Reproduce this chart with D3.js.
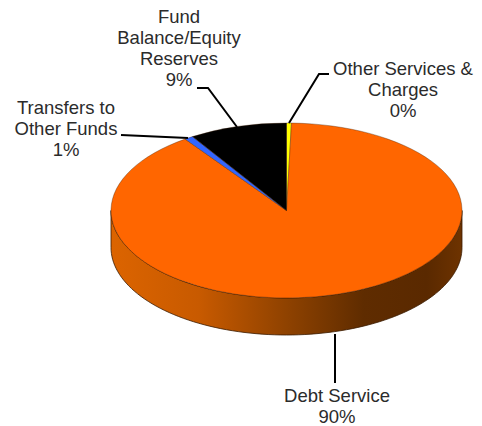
<!DOCTYPE html>
<html>
<head>
<meta charset="utf-8">
<script src="https://cdn.jsdelivr.net/npm/d3@7"></script>
<style>
html,body{margin:0;padding:0;background:#fff}
svg{display:block}
text{font-family:"Liberation Sans",Arial,sans-serif;font-size:18.5px;fill:#2b2b2b}
</style>
</head>
<body>
<svg id="chart" width="482" height="426"></svg>
<script>
// Budget shares, clockwise from twelve o'clock
const categories = ["Other Services & Charges", "Debt Service", "Transfers to Other Funds", "Fund Balance/Equity Reserves"];
const shares = [0.45, 89.75, 0.8, 9.0];
const colours = ["#ffff00", "#ff6600", "#3366ff", "#000000"];
const labelLines = [
  ["Other Services &", "Charges"],
  ["Debt Service"],
  ["Transfers to", "Other Funds"],
  ["Fund", "Balance/Equity", "Reserves"]
];
const labelAnchors = [[403, 75], [337, 402], [66, 114], [179, 23]];
const wallStops = [
  [0, "#dc6400"], [0.25, "#c85a00"], [0.5, "#8f4200"],
  [0.72, "#5f2c00"], [0.9, "#5a2900"], [1, "#6e3300"]
];
const leaders = [
  [[289, 123], [319, 74], [329, 74]],
  [[335, 334], [335, 383]],
  [[121, 135], [188, 138]],
  [[237, 127], [208, 88], [197, 88]]
];

const cx = 286.5, cy = 210.5, rx = 175.5, ry = 87.5, depth = 37;
const svg = d3.select("#chart");

const pieLayout = d3.pie().sort(null).value(d => d);
const arcs = pieLayout(shares);

const grad = svg.append("defs").append("linearGradient")
  .attr("id", "wall").attr("x1", 0).attr("x2", 1).attr("y1", 0).attr("y2", 0);
grad.selectAll("stop").data(wallStops).join("stop")
  .attr("offset", d => d[0]).attr("stop-color", d => d[1]);

// Front rim of the disc: lower half-ellipse dropped by the depth
const rim = d3.path();
rim.moveTo(cx - rx, cy);
rim.lineTo(cx - rx, cy + depth);
const steps = d3.range(0, 181, 2).map(d => d * Math.PI / 180);
steps.forEach(t => rim.lineTo(cx - rx * Math.cos(t), cy + depth + ry * Math.sin(t)));
rim.lineTo(cx + rx, cy);
steps.slice().reverse().forEach(t => rim.lineTo(cx - rx * Math.cos(t), cy + ry * Math.sin(t)));
rim.closePath();
svg.append("path").attr("d", rim.toString())
  .attr("fill", "url(#wall)").attr("stroke", "#3a1a00").attr("stroke-width", 0.8);

// Top face: a circular pie squashed into an ellipse
const arcGen = d3.arc().innerRadius(0).outerRadius(rx);
svg.append("g")
  .attr("transform", `translate(${cx},${cy}) scale(1,${ry / rx})`)
  .selectAll("path").data(arcs).join("path")
  .attr("d", arcGen)
  .attr("fill", (d, i) => colours[i])
  .attr("stroke", "#3a1a00").attr("stroke-width", 0.35)
  .attr("vector-effect", "non-scaling-stroke");

const line = d3.line();
svg.append("g").selectAll("path").data(leaders).join("path")
  .attr("d", d => line(d))
  .attr("fill", "none").attr("stroke", "#000").attr("stroke-width", 2);

const pct = d3.format(".0f");
const labels = svg.append("g").selectAll("text").data(categories).join("text")
  .attr("text-anchor", "middle")
  .attr("x", (d, i) => labelAnchors[i][0])
  .attr("y", (d, i) => labelAnchors[i][1]);
labels.each(function (d, i) {
  const rows = labelLines[i].concat(pct(shares[i]) + "%");
  d3.select(this).selectAll("tspan").data(rows).join("tspan")
    .attr("x", labelAnchors[i][0])
    .attr("dy", (r, j) => j === 0 ? 0 : 21)
    .text(r => r);
});
</script>
</body>
</html>
